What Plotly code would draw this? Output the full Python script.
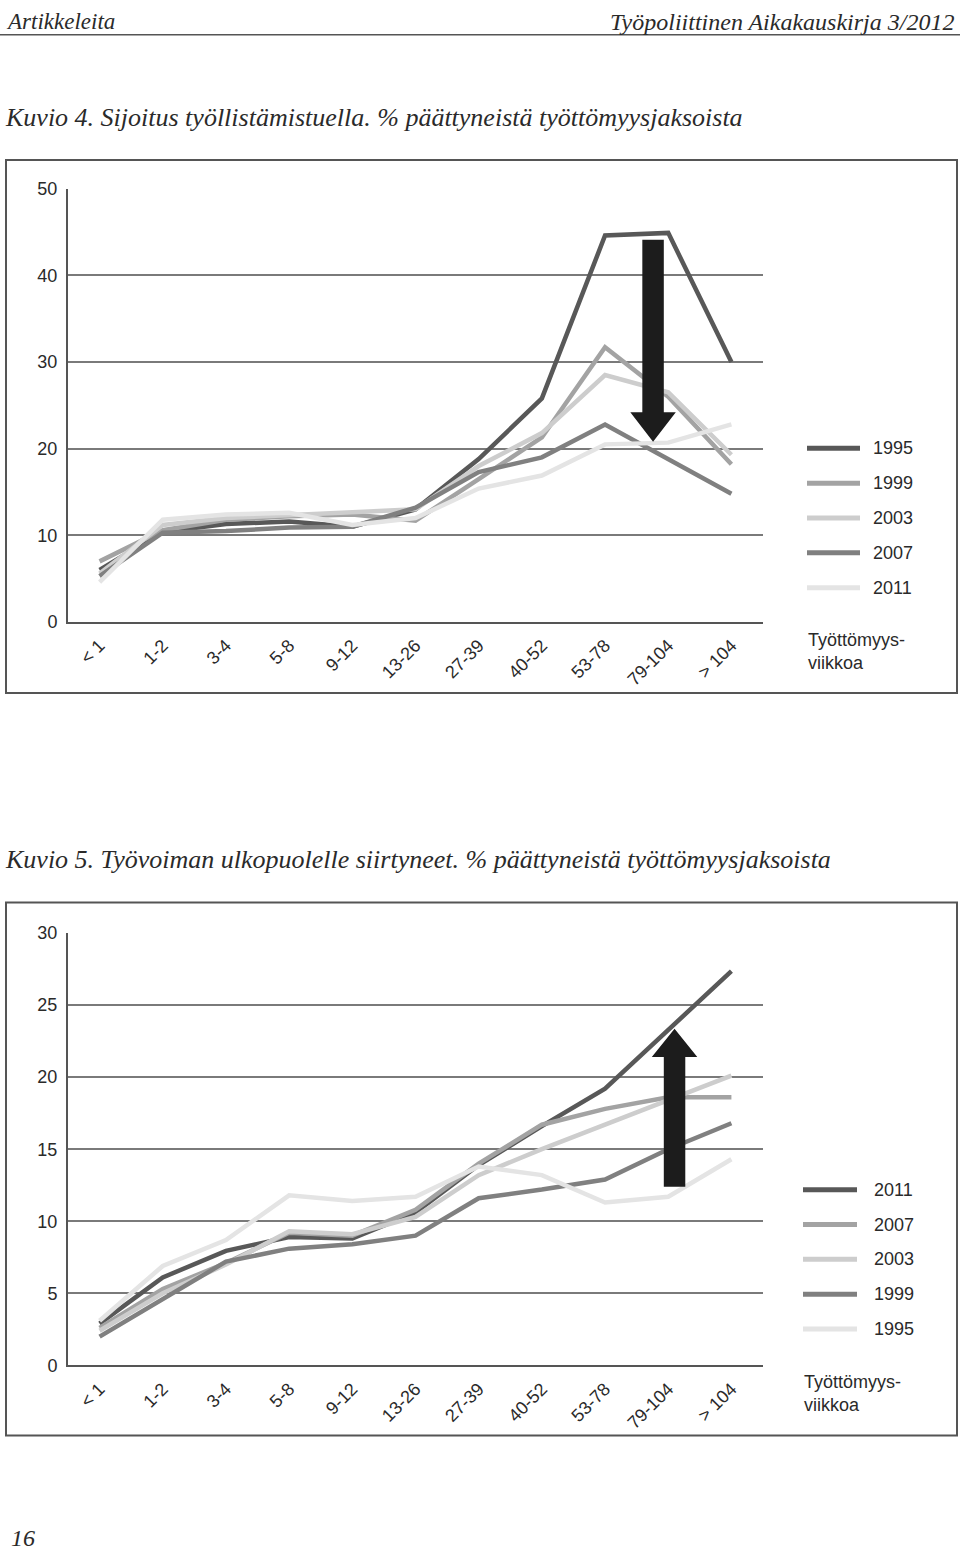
import plotly.graph_objects as go

# ---------------- data ----------------
categories = ["< 1", "1-2", "3-4", "5-8", "9-12", "13-26", "27-39", "40-52", "53-78", "79-104", "> 104"]

# Kuvio 4: Sijoitus työllistämistuella (%)
k4_years = ["1995", "1999", "2003", "2007", "2011"]
k4_1995 = [6.0, 10.4, 11.3, 11.6, 11.0, 13.0, 18.8, 25.8, 44.6, 44.9, 30.0]
k4_1999 = [7.0, 10.6, 11.8, 12.2, 12.4, 11.7, 16.5, 21.3, 31.7, 26.0, 18.2]
k4_2003 = [5.6, 11.2, 12.0, 12.3, 12.6, 13.0, 18.0, 21.8, 28.5, 26.5, 19.3]
k4_2007 = [5.3, 10.3, 10.5, 10.9, 11.0, 13.2, 17.3, 19.0, 22.8, 18.8, 14.8]
k4_2011 = [4.6, 11.8, 12.4, 12.6, 11.2, 12.0, 15.4, 16.9, 20.5, 20.7, 22.8]
k4_ticks = [0, 10, 20, 30, 40, 50]

# Kuvio 5: Työvoiman ulkopuolelle siirtyneet (%)
k5_years = ["2011", "2007", "2003", "1999", "1995"]
k5_2011 = [2.9, 6.1, 7.95, 8.9, 8.8, 10.6, 13.9, 16.6, 19.2, 23.3, 27.35]
k5_2007 = [2.6, 5.3, 7.1, 9.2, 9.0, 10.8, 14.0, 16.7, 17.8, 18.6, 18.6]
k5_2003 = [2.4, 5.0, 7.0, 9.3, 9.1, 10.3, 13.2, 15.0, 16.7, 18.4, 20.1]
k5_1999 = [2.0, 4.6, 7.2, 8.1, 8.4, 9.0, 11.6, 12.2, 12.9, 15.0, 16.8]
k5_1995 = [3.1, 6.9, 8.7, 11.8, 11.4, 11.7, 13.8, 13.2, 11.3, 11.7, 14.3]
k5_ticks = [0, 5, 10, 15, 20, 25, 30]

# ---------------- styling ----------------
W, H = 960, 1559
shades = ["#585858", "#a3a3a3", "#cdcdcd", "#808080", "#e4e4e4"]
SANS = "Liberation Sans, Arial, sans-serif"
SERIF = "Liberation Serif, Times New Roman, serif"
TXT = "#2a2a2a"


def px(x):
    return x / W


def py(y):
    return 1 - y / H


XDOM = [px(68), px(763)]
Y1DOM = [py(620), py(181)]
Y2DOM = [py(1373), py(935)]
Y1RANGE = [0, 50]
Y2RANGE = [0, 30]


def to_paper(idx, val, ydom, yrange):
    n = len(categories)
    xp = XDOM[0] + (idx + 0.5) / n * (XDOM[1] - XDOM[0])
    yp = ydom[0] + (val - yrange[0]) / (yrange[1] - yrange[0]) * (ydom[1] - ydom[0])
    return xp, yp


fig = go.Figure()

k4_series = [k4_1995, k4_1999, k4_2003, k4_2007, k4_2011]
for name, vals, col in zip(k4_years, k4_series, shades):
    fig.add_trace(go.Scatter(x=categories, y=vals, mode="lines", name=name,
                             line=dict(color=col, width=4.5),
                             xaxis="x", yaxis="y", showlegend=False, hoverinfo="skip"))

k5_series = [k5_2011, k5_2007, k5_2003, k5_1999, k5_1995]
for name, vals, col in zip(k5_years, k5_series, shades):
    fig.add_trace(go.Scatter(x=categories, y=vals, mode="lines", name=name,
                             line=dict(color=col, width=4.5),
                             xaxis="x2", yaxis="y2", showlegend=False, hoverinfo="skip"))

xcommon = dict(type="category", categoryorder="array", categoryarray=categories,
               range=[-0.5, len(categories) - 0.5], domain=XDOM,
               showgrid=False, zeroline=False, showline=True, linecolor="#555555", linewidth=2,
               ticks="", tickangle=-45, ticklabelstandoff=4,
               tickfont=dict(family=SANS, size=18, color=TXT), fixedrange=True)
ycommon = dict(showgrid=True, gridcolor="#7a7a7a", gridwidth=1.5, zeroline=False,
               showline=True, linecolor="#555555", linewidth=2, ticks="",
               ticklabelstandoff=5, tickfont=dict(family=SANS, size=18, color=TXT), fixedrange=True)

fig.update_layout(
    width=W, height=H, margin=dict(l=0, r=0, t=0, b=0),
    paper_bgcolor="white", plot_bgcolor="white",
    xaxis=dict(anchor="y", **xcommon),
    yaxis=dict(anchor="x", domain=Y1DOM, range=Y1RANGE, tickvals=k4_ticks, **ycommon),
    xaxis2=dict(anchor="y2", **xcommon),
    yaxis2=dict(anchor="x2", domain=Y2DOM, range=Y2RANGE, tickvals=k5_ticks, **ycommon),
)

shapes = []
annotations = []

# header
annotations.append(dict(x=px(4), y=py(12), xref="paper", yref="paper", xanchor="left", yanchor="middle",
                        text="<i>Artikkeleita</i>", showarrow=False,
                        font=dict(family=SERIF, size=23, color=TXT)))
annotations.append(dict(x=px(956), y=py(12), xref="paper", yref="paper", xanchor="right", yanchor="middle",
                        text="<i>Työpoliittinen Aikakauskirja 3/2012</i>", showarrow=False,
                        font=dict(family=SERIF, size=24, color=TXT)))
shapes.append(dict(type="line", xref="paper", yref="paper", x0=0, x1=1, y0=py(25), y1=py(25),
                   line=dict(color="#555555", width=1.5)))

# titles
annotations.append(dict(x=px(3), y=py(109), xref="paper", yref="paper", xanchor="left", yanchor="middle",
                        text="<i>Kuvio 4. Sijoitus työllistämistuella. % päättyneistä työttömyysjaksoista</i>",
                        showarrow=False, font=dict(family=SERIF, size=26, color=TXT)))
annotations.append(dict(x=px(3), y=py(861), xref="paper", yref="paper", xanchor="left", yanchor="middle",
                        text="<i>Kuvio 5. Työvoiman ulkopuolelle siirtyneet. % päättyneistä työttömyysjaksoista</i>",
                        showarrow=False, font=dict(family=SERIF, size=26, color=TXT)))
annotations.append(dict(x=px(9), y=py(1548), xref="paper", yref="paper", xanchor="left", yanchor="middle",
                        text="<i>16</i>", showarrow=False, font=dict(family=SERIF, size=24, color=TXT)))

# frames around charts
for (t, b) in [(152, 692), (904, 1444)]:
    shapes.append(dict(type="rect", xref="paper", yref="paper", x0=px(6), x1=px(957), y0=py(b), y1=py(t),
                       line=dict(color="#555555", width=2), fillcolor="rgba(0,0,0,0)", layer="below"))

# legends (custom keys)
def legend(names, ystart, line_x0, line_x1, text_x, note_y):
    for i, (nm, col) in enumerate(zip(names, shades)):
        yy = ystart + i * 35.3
        shapes.append(dict(type="line", xref="paper", yref="paper", x0=px(line_x0), x1=px(line_x1),
                           y0=py(yy), y1=py(yy), line=dict(color=col, width=5)))
        annotations.append(dict(x=px(text_x), y=py(yy), xref="paper", yref="paper", xanchor="left",
                                yanchor="middle", text=nm, showarrow=False,
                                font=dict(family=SANS, size=18, color=TXT)))
    annotations.append(dict(x=px(line_x0 - 1), y=py(note_y), xref="paper", yref="paper", xanchor="left",
                            yanchor="middle", text="Työttömyys-<br>viikkoa", showarrow=False, align="left",
                            font=dict(family=SANS, size=18, color=TXT)))

legend(k4_years, 444, 807, 860, 871, 650)
legend(k5_years, 1195, 803, 857, 872, 1401)

# arrows (annotation graphics, placed in data space of each chart)
def arrow(idx, y_tail, y_base, y_tip, ydom, yrange, shaft_hw=0.17, head_hw=0.36):
    pts = [(idx - shaft_hw, y_tail), (idx + shaft_hw, y_tail), (idx + shaft_hw, y_base),
           (idx + head_hw, y_base), (idx, y_tip), (idx - head_hw, y_base), (idx - shaft_hw, y_base)]
    pp = [to_paper(a, b, ydom, yrange) for a, b in pts]
    path = "M " + " L ".join(f"{a:.5f},{b:.5f}" for a, b in pp) + " Z"
    shapes.append(dict(type="path", xref="paper", yref="paper", path=path,
                       fillcolor="#1c1c1c", line=dict(color="#1c1c1c", width=0), layer="above"))

arrow(8.76, 44.1, 24.2, 20.8, Y1DOM, Y1RANGE)
arrow(9.10, 12.4, 21.4, 23.35, Y2DOM, Y2RANGE)

fig.update_layout(shapes=shapes, annotations=annotations)

fig.write_html("out.html", config={"displayModeBar": False},
               post_script="document.body.style.margin='0';document.body.style.overflow='hidden';")
